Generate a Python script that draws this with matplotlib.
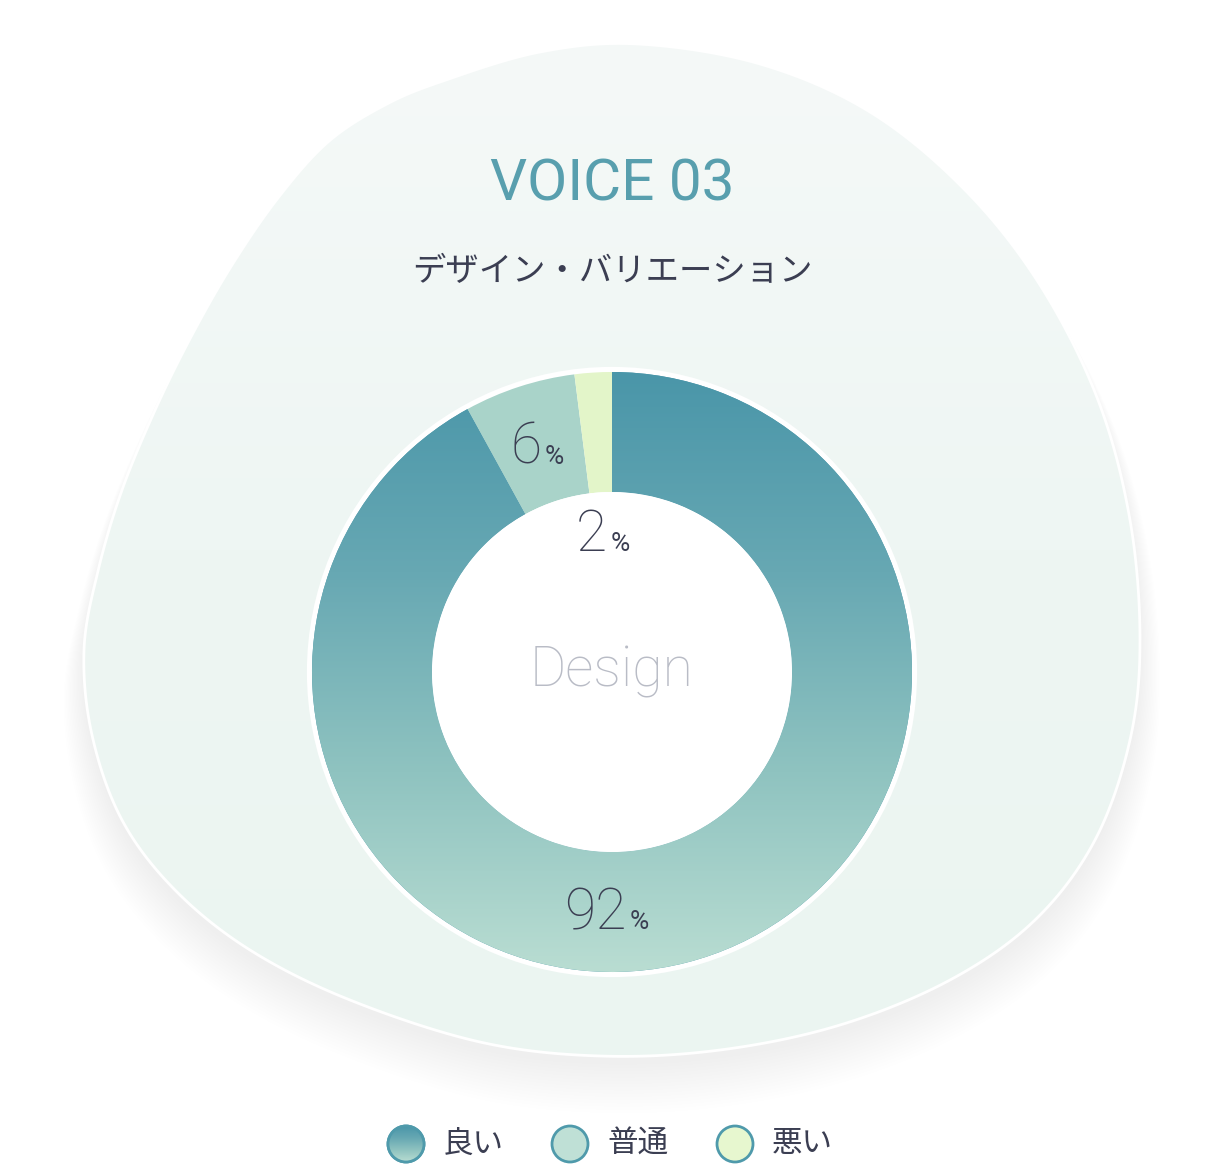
import numpy as np
import matplotlib.pyplot as plt
from matplotlib.colors import LinearSegmentedColormap
from matplotlib.patches import Circle, PathPatch
from matplotlib.path import Path

# data
categories = ['良い', '普通', '悪い']
shares = [92, 6, 2]
title = 'VOICE 03'
subtitle = 'デザイン・バリエーション'
center_label = 'Design'

# styles
seg_colors = ['#4b97aa', '#a9d3c9', '#e3f5c9']
legend_fill = ['#4b97aa', '#bfe0d6', '#e7f7cf']
good_cmap = LinearSegmentedColormap.from_list(
    'good', ['#4a96a9', '#67a8b3', '#8fc3c0', '#b9ddd2'])
blob_cmap = LinearSegmentedColormap.from_list('blob', ['#f5f9f8', '#eef6f3', '#ebf5f1'])
ink = '#3b3e52'
jp = ['Noto Sans CJK JP', 'DejaVu Sans']
lat = ['Roboto', 'Lato', 'DejaVu Sans']

W, H = 1224, 1176
fig = plt.figure(figsize=(W / 100, H / 100), dpi=100)
bg = fig.add_axes([0, 0, 1, 1])
bg.set_xlim(0, W)
bg.set_ylim(H, 0)
bg.axis('off')


def closed_spline(pts, n=40):
    # catmull-rom through the outline points
    p = np.asarray(pts, float)
    N = len(p)
    t = np.linspace(0, 1, n, endpoint=False)[:, None]
    out = []
    for i in range(N):
        p0, p1, p2, p3 = p[i - 1], p[i], p[(i + 1) % N], p[(i + 2) % N]
        out.append(0.5 * (2 * p1 + (-p0 + p2) * t + (2 * p0 - 5 * p1 + 4 * p2 - p3) * t ** 2
                          + (-p0 + 3 * p1 - 3 * p2 + p3) * t ** 3))
    return np.vstack(out)


# decorative blob behind the chart
outline = [(638, 44), (760, 64), (870, 112), (965, 190), (1040, 285), (1098, 400),
           (1130, 520), (1140, 640), (1130, 740), (1095, 840), (1035, 920), (950, 980),
           (840, 1025), (720, 1050), (600, 1056), (480, 1042), (350, 1000), (250, 950),
           (175, 890), (122, 820), (92, 735), (84, 650), (98, 571), (122, 490),
           (156, 408), (192, 335), (232, 265), (278, 198), (328, 142), (385, 105),
           (443, 81), (540, 52)]
blob = closed_spline(outline)

# soft shadow
for k in range(16):
    s = 1.0 + 0.0025 * k
    sh = (blob - [612, 560]) * s + [612, 568 + 2 * k]
    bg.add_patch(PathPatch(Path(np.vstack([sh, sh[:1]]), closed=True),
                           fc='#e6e6ec', ec='none', alpha=0.007, zorder=1))

blob_patch = PathPatch(Path(np.vstack([blob, blob[:1]]), closed=True),
                       fc='#edf6f2', ec='none', zorder=2)
bg.add_patch(blob_patch)
grad = np.linspace(0, 1, 256)[:, None]
im = bg.imshow(grad, cmap=blob_cmap, extent=(0, W, 1060, 40), aspect='auto', zorder=2.5)
im.set_clip_path(blob_patch)
bg.add_patch(PathPatch(Path(np.vstack([blob, blob[:1]]), closed=True),
                       fc='none', ec='white', lw=2, zorder=2.6))
bg.set_xlim(0, W)
bg.set_ylim(H, 0)

# titles
bg.text(612, 185, title, ha='center', va='center', fontsize=42, color='#589fae',
        family=lat, zorder=5)
bg.text(612, 272, subtitle, ha='center', va='center', fontsize=24, color=ink,
        family=jp, zorder=5)

# donut
cx, cy, R = 612, 672, 300
lim = 1.05
pw, ph = 2 * lim * R / W, 2 * lim * R / H
pax = fig.add_axes([cx / W - pw / 2, 1 - cy / H - ph / 2, pw, ph])
pax.set_xlim(-lim, lim)
pax.set_ylim(-lim, lim)
pax.set_aspect('equal')
pax.axis('off')
pax.add_patch(Circle((0, 0), 1.017, fc='white', ec='none', zorder=0))
wedges, _ = pax.pie(shares, colors=seg_colors, startangle=90, counterclock=False,
                    radius=1, wedgeprops=dict(width=0.4, edgecolor='none'))
gim = pax.imshow(grad, cmap=good_cmap, extent=(-1, 1, -1, 1), aspect='auto', zorder=3)
gim.set_clip_path(wedges[0])
pax.set_xlim(-lim, lim)
pax.set_ylim(-lim, lim)
pax.add_patch(Circle((0, 0), 0.6, fc='white', ec='none', zorder=4))

pax.text(0, 0, center_label, ha='center', va='center', fontsize=40, color='#b9bcc6',
         family=lat, fontweight='light', zorder=6)

label_r = [0.79, 0.80, 0.47]
for i, (w, v) in enumerate(zip(wedges, shares)):
    mid = np.deg2rad((w.theta1 + w.theta2) / 2)
    if i == 0:
        mid = -np.pi / 2  # big slice: label at the bottom of the ring
    x, y = label_r[i] * np.cos(mid), label_r[i] * np.sin(mid)
    dx = 4 + 11 * (len(str(v)) - 1)
    pax.annotate(str(v), (x, y), xytext=(dx, -20), textcoords='offset pixels',
                 ha='right', va='baseline', fontsize=41, color=ink, family=lat,
                 fontweight='light', zorder=6)
    pax.annotate('%', (x, y), xytext=(dx + 3, -20), textcoords='offset pixels',
                 ha='left', va='baseline', fontsize=19, color=ink, family=lat,
                 zorder=6)

# legend
lx = [406, 570, 735]
ly = 1144
for i, name in enumerate(categories):
    c = Circle((lx[i], ly), 18, fc=legend_fill[i], ec='#4f9aab', lw=2, zorder=5)
    bg.add_patch(c)
    if i == 0:
        li = bg.imshow(grad, cmap=good_cmap, extent=(lx[i] - 18, lx[i] + 18, ly + 18, ly - 18),
                       aspect='auto', zorder=5.5)
        li.set_clip_path(c)
        bg.add_patch(Circle((lx[i], ly), 18, fc='none', ec='#4f9aab', lw=2, zorder=6))
    bg.text(lx[i] + 37, ly, name, ha='left', va='center', fontsize=22, color=ink,
            family=jp, zorder=5)
bg.set_xlim(0, W)
bg.set_ylim(H, 0)

fig.savefig('out.png', dpi=100, facecolor='white')
